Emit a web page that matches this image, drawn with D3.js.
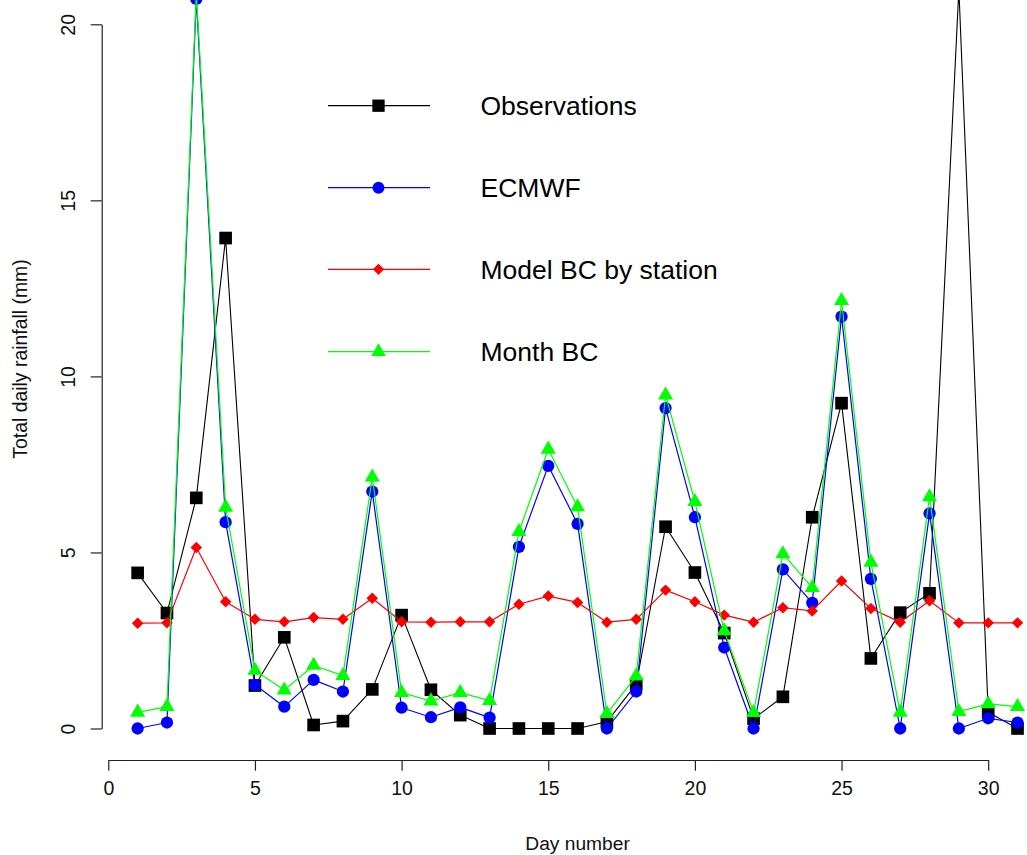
<!DOCTYPE html>
<html>
<head>
<meta charset="utf-8">
<script src="https://cdn.jsdelivr.net/npm/d3@7"></script>
<style>
  html, body { margin: 0; padding: 0; background: #fff; }
  svg { display: block; font-family: "Liberation Sans", Arial, sans-serif; }
</style>
</head>
<body>
<svg id="chart" width="1027" height="855"></svg>
<script>
// Daily rainfall for one month: observed vs. forecast and two bias corrections
const days = d3.range(1, 32);

const observations = [4.42, 3.28, 6.55, 13.93, 1.22, 2.59, 0.10, 0.21, 1.11, 3.22,
  1.10, 0.38, 0.00, 0.00, 0.00, 0.00, 0.19, 1.26, 5.73, 4.43,
  2.71, 0.28, 0.90, 6.00, 9.24, 1.99, 3.29, 3.84, 21.00, 0.46, 0.00];

const ecmwf = [0.00, 0.17, 20.72, 5.86, 1.24, 0.62, 1.38, 1.05, 6.73, 0.59,
  0.32, 0.60, 0.31, 5.16, 7.46, 5.81, 0.00, 1.05, 9.10, 6.00,
  2.30, 0.00, 4.52, 3.57, 11.70, 4.25, 0.00, 6.11, 0.00, 0.29, 0.17];

const modelBC = [2.99, 3.00, 5.14, 3.60, 3.10, 3.03, 3.15, 3.10, 3.70, 3.03,
  3.02, 3.03, 3.03, 3.53, 3.76, 3.58, 3.02, 3.10, 3.93, 3.60,
  3.22, 3.02, 3.43, 3.34, 4.19, 3.41, 3.02, 3.63, 3.00, 3.00, 3.00];

const monthBC = [0.46, 0.62, 20.90, 6.28, 1.65, 1.09, 1.79, 1.50, 7.14, 1.02,
  0.78, 1.02, 0.79, 5.59, 7.93, 6.29, 0.42, 1.49, 9.47, 6.44,
  2.77, 0.45, 4.96, 4.00, 12.15, 4.72, 0.46, 6.58, 0.48, 0.70, 0.62];

const seriesNames = ["Observations", "ECMWF", "Model BC by station", "Month BC"];
const xTicks = [0, 5, 10, 15, 20, 25, 30];
const yTicks = [0, 5, 10, 15, 20];

const svg = d3.select("#chart");

const x = d3.scaleLinear().domain([0, 30]).range([108.3, 988.2]);
const y = d3.scaleLinear().domain([0, 20]).range([728.5, 24.3]);

const series = [
  { name: seriesNames[0], values: observations, color: "#000000", width: 1.1,
    symbol: d3.symbolSquare, size: 160, rotate: 0 },
  { name: seriesNames[1], values: ecmwf, color: "#0000ff", width: 1.2,
    symbol: d3.symbolCircle, size: 118, rotate: 0 },
  { name: seriesNames[2], values: modelBC, color: "#ff0000", width: 1.2,
    symbol: d3.symbolSquare, size: 66, rotate: 45 },
  { name: seriesNames[3], values: monthBC, color: "#00ff00", width: 1.2,
    symbol: d3.symbolTriangle, size: 98, rotate: 0 }
];

// Lines and point markers, drawn in series order
const line = d3.line().x((d, i) => x(days[i])).y(d => y(d));
const plot = svg.append("g");
series.forEach(s => {
  const g = plot.append("g");
  g.append("path")
    .attr("d", line(s.values))
    .attr("fill", "none")
    .attr("stroke", s.color)
    .attr("stroke-width", s.width)
    .attr("stroke-linejoin", "round");
  g.selectAll("path.pt")
    .data(s.values)
    .join("path")
    .attr("class", "pt")
    .attr("d", d3.symbol().type(s.symbol).size(s.size))
    .attr("transform", (d, i) => `translate(${x(days[i])},${y(d)}) rotate(${s.rotate})`)
    .attr("fill", s.color);
});

// Axes in the detached base-graphics style
const xAxis = svg.append("g")
  .attr("transform", "translate(0,760)")
  .call(d3.axisBottom(x).tickValues(xTicks).tickSize(10.7).tickSizeOuter(0).tickPadding(10));
xAxis.select(".domain").attr("stroke", "#222").attr("stroke-width", 1.2);
xAxis.selectAll(".tick line").attr("stroke", "#222").attr("stroke-width", 1.2);
xAxis.selectAll(".tick text")
  .attr("font-size", 19.5)
  .attr("font-family", "Liberation Sans, Arial, sans-serif")
  .attr("fill", "#111");

const yAxis = svg.append("g")
  .attr("transform", "translate(101.7,0)")
  .call(d3.axisLeft(y).tickValues(yTicks).tickSize(11).tickSizeOuter(0));
yAxis.select(".domain").attr("stroke", "#222").attr("stroke-width", 1.2);
yAxis.selectAll(".tick line").attr("stroke", "#222").attr("stroke-width", 1.2);
yAxis.selectAll(".tick text")
  .attr("font-size", 19.5)
  .attr("font-family", "Liberation Sans, Arial, sans-serif")
  .attr("fill", "#111")
  .attr("x", null).attr("dy", null)
  .attr("text-anchor", "middle")
  .attr("transform", "translate(-26.7,0) rotate(-90)");

// Axis titles, centred on the plotting region
svg.append("text")
  .attr("x", x(16)).attr("y", 850)
  .attr("text-anchor", "middle")
  .attr("font-size", 19.2)
  .attr("fill", "#111")
  .text("Day number");

svg.append("text")
  .attr("transform", `translate(27,${359}) rotate(-90)`)
  .attr("text-anchor", "middle")
  .attr("font-size", 19.4)
  .attr("fill", "#111")
  .text("Total daily rainfall (mm)");

// Legend
const legendY = [105.7, 187.7, 269.3, 351.7];
const legend = svg.append("g");
series.forEach((s, i) => {
  const g = legend.append("g").attr("transform", `translate(0,${legendY[i]})`);
  g.append("line")
    .attr("x1", 328).attr("x2", 430)
    .attr("stroke", s.color)
    .attr("stroke-width", 1.3);
  g.append("path")
    .attr("d", d3.symbol().type(s.symbol).size(s.size * 0.95))
    .attr("transform", `translate(378.5,0) rotate(${s.rotate})`)
    .attr("fill", s.color);
  g.append("text")
    .attr("x", 480.5).attr("y", 9.3)
    .attr("font-size", 26.5)
    .attr("fill", "#000")
    .text(s.name);
});
</script>
</body>
</html>
